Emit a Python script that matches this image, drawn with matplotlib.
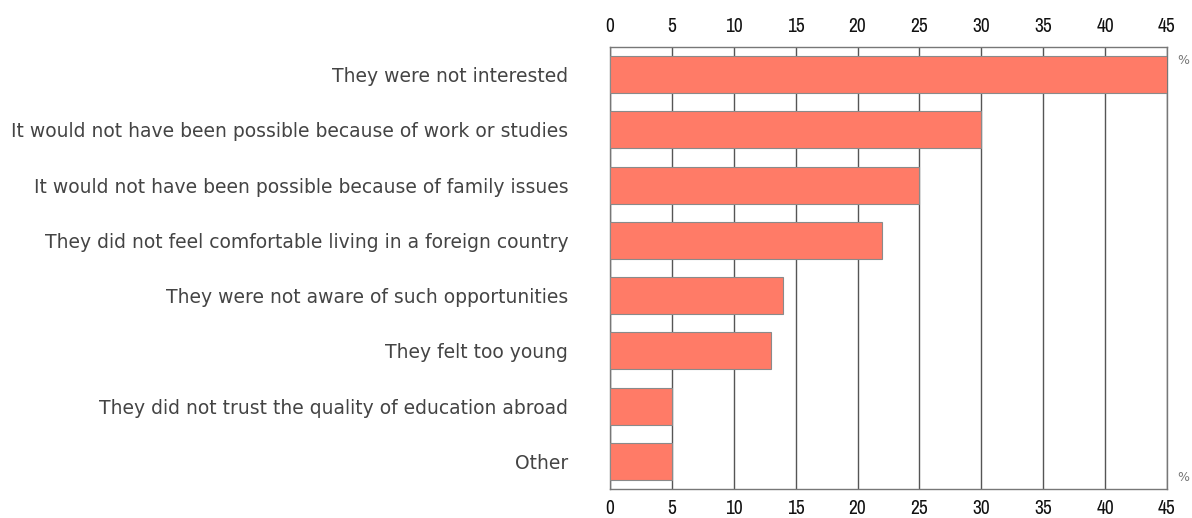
import matplotlib
matplotlib.use('Agg')
import matplotlib.pyplot as plt

# reasons for not studying abroad, share of respondents (%)
reasons = [
    'They were not interested',
    'It would not have been possible because of work or studies',
    'It would not have been possible because of family issues',
    'They did not feel comfortable living in a foreign country',
    'They were not aware of such opportunities',
    'They felt too young',
    'They did not trust the quality of education abroad',
    'Other',
]
shares = [45, 30, 25, 22, 14, 13, 5, 5]
ticks = [0, 5, 10, 15, 20, 25, 30, 35, 40, 45]

NUM_FONT = ['Archivo Narrow', 'Liberation Sans', 'DejaVu Sans']

W, H = 1192, 518
fig = plt.figure(figsize=(W / 100, H / 100), dpi=100)
ax = fig.add_axes([610 / W, 1 - 489 / H, 557 / W, 442 / H])

pos = list(range(len(reasons)))
ax.barh(pos, shares, height=0.67, color='#ff7b67', edgecolor='#8a8a8a',
        linewidth=0.8, zorder=3)

ax.set_xlim(0, 45)
ax.set_ylim(len(reasons) - 0.5, -0.5)
ax.set_xticks(ticks)
ax.xaxis.grid(True, color='#555555', linewidth=1.0, zorder=1)
ax.tick_params(axis='x', length=0, pad=7.5, labelsize=14, labelcolor='#111111')

# same scale repeated above the plot
top = ax.secondary_xaxis('top')
top.set_xticks(ticks)
top.tick_params(axis='x', length=0, pad=8, labelsize=14, labelcolor='#111111')
top.spines['top'].set_visible(False)

for a in (ax, top):
    for lab in a.get_xticklabels():
        lab.set_family(NUM_FONT)
        lab.set_fontweight('bold')
        lab.set_fontsize(14)

ax.set_yticks(pos)
ax.set_yticklabels(reasons, fontsize=13.5, color='#444444')
ax.tick_params(axis='y', length=0, pad=30)

for s in ax.spines.values():
    s.set_color('#777777')
    s.set_linewidth(1.0)

ax.text(1.03, 0.97, '%', transform=ax.transAxes, fontsize=9, color='#777777',
        ha='center', va='center')
ax.text(1.03, 0.025, '%', transform=ax.transAxes, fontsize=9, color='#777777',
        ha='center', va='center')

fig.savefig('out.png', dpi=100)
